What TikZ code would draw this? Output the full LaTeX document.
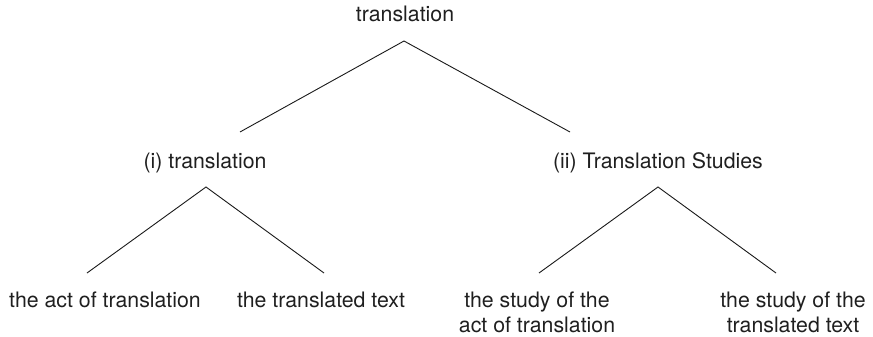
\documentclass[tikz,border=0pt]{standalone}
\usepackage{fontspec}
\setmainfont{TeX Gyre Heros}
\begin{document}
\begin{tikzpicture}[x=1pt,y=-1pt,
  lbl/.style={inner sep=0pt, font=\fontsize{21.3}{25}\selectfont, text=black!88, align=center},
  branch/.style={draw=black!90, line width=0.9pt}]
\useasboundingbox (0,0) rectangle (873,337);
% labels
\node[lbl] (root) at (405,14) {translation};
\node[lbl] (left) at (205,163) {(i) translation};
\node[lbl] (right) at (658,163) {(ii) Translation Studies};
\node[lbl] (act) at (105,300) {the act of translation};
\node[lbl] (text) at (321,300) {the translated text};
\node[lbl] (sact) at (537,312) {the study of the\\act of translation};
\node[lbl] (stext) at (793,312) {the study of the\\translated text};
% branch points
\coordinate (rootapex) at (404,41);
\coordinate (rootL) at (240,132);
\coordinate (rootR) at (570,132);
\coordinate (leftapex) at (206,187);
\coordinate (leftL) at (87,273);
\coordinate (leftR) at (324,273);
\coordinate (rightapex) at (658,187);
\coordinate (rightL) at (539,273);
\coordinate (rightR) at (776,273);
% branches
\draw[branch] (rootL) -- (rootapex) -- (rootR);
\draw[branch] (leftL) -- (leftapex) -- (leftR);
\draw[branch] (rightL) -- (rightapex) -- (rightR);
\end{tikzpicture}
\end{document}
